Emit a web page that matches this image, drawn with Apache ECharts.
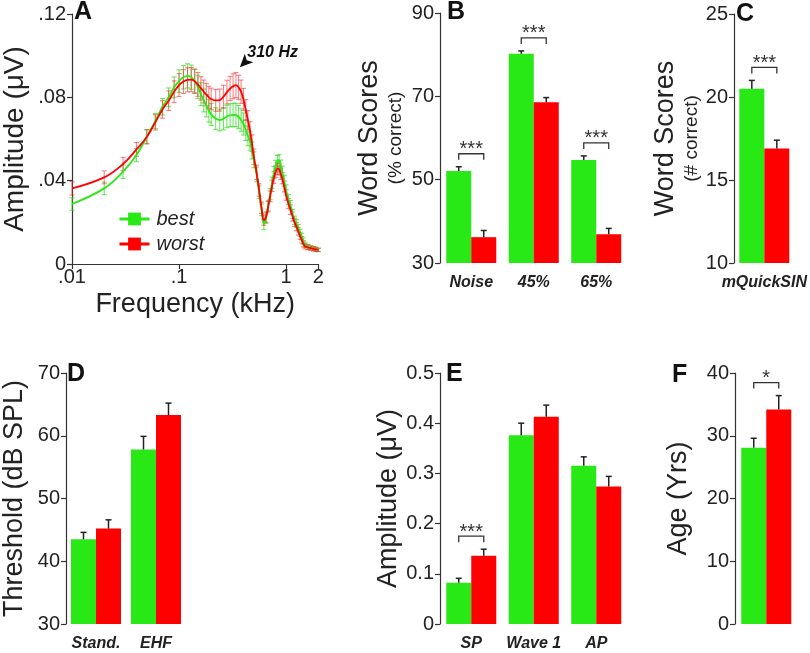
<!DOCTYPE html>
<html>
<head>
<meta charset="utf-8">
<script src="https://cdn.jsdelivr.net/npm/echarts@6.0.0/dist/echarts.min.js"></script>
<style>
  html, body { margin: 0; padding: 0; background: #fff; }
  #chart { width: 810px; height: 653px; }
</style>
</head>
<body>
<div id="chart"></div>
<script>
// A: response amplitude by frequency (kHz)
const freqA = [
  0.01, 0.02, 0.03, 0.04, 0.05, 0.06, 0.07, 0.08, 0.09, 0.10, 0.11, 0.12, 0.13, 0.14, 0.15, 0.16, 0.17, 0.18, 0.19, 0.20,
  0.22, 0.24, 0.26, 0.28, 0.30, 0.32, 0.34, 0.36, 0.38, 0.40, 0.42, 0.44, 0.46, 0.48, 0.50,
  0.53, 0.56, 0.59, 0.62, 0.65, 0.68, 0.71, 0.74, 0.77, 0.80, 0.83, 0.86, 0.89, 0.92,
  0.96, 1.00,
  1.05, 1.10, 1.15, 1.20, 1.25, 1.30, 1.35, 1.40, 1.45, 1.50,
  1.6, 1.7, 1.8, 1.9, 2.0
];
const bestA = [
  .0288, .0363, .0443, .0523, .0612, .0686, .0755, .0800, .0848, .0878, .0896, .0903, .0897, .0878, .0850, .0815, .0785, .0760, .0735, .0718,
  .0698, .0691, .0697, .0708, .0714, .0716, .0715, .0706, .0691, .0672, .0643, .0615, .0590, .0545, .0500,
  .0430, .0345, .0260, .0190, .0220, .0280, .0335, .0390, .0440, .0470, .0493, .0497, .0472, .0443,
  .0400, .0355,
  .0310, .0282, .0240, .0210, .0195, .0172, .0150, .0131, .0110, .0092,
  .0082, .0078, .0074, .0071, .0067
];
const worstA = [
  .0363, .0416, .0480, .0550, .0610, .0680, .0742, .0784, .0827, .0859, .0876, .0884, .0885, .0877, .0862, .0843, .0828, .0813, .0800, .0792,
  .0785, .0787, .0803, .0825, .0842, .0853, .0859, .0848, .0827, .0790, .0739, .0690, .0640, .0580, .0515,
  .0440, .0355, .0270, .0211, .0225, .0275, .0325, .0375, .0415, .0443, .0458, .0455, .0433, .0412,
  .0372, .0331,
  .0290, .0261, .0228, .0200, .0179, .0157, .0135, .0116, .0097, .0085,
  .0080, .0076, .0073, .0070, .0068
];
const bestAErr = [
  .0030, .0030, .0032, .0032, .0033, .0036, .0040, .0045, .0050, .0054, .0056, .0058, .0058, .0057, .0056, .0055, .0055, .0054, .0054, .0053,
  .0052, .0052, .0053, .0054, .0055, .0056, .0056, .0055, .0054, .0053, .0050, .0047, .0044, .0041, .0038,
  .0035, .0030, .0028, .0025, .0025, .0025, .0026, .0027, .0028, .0028, .0028, .0028, .0027, .0027,
  .0026, .0025,
  .0024, .0023, .0022, .0020, .0019, .0018, .0017, .0016, .0015, .0013,
  .0012, .0010, .0010, .0010, .0008
];
const worstAErr = [
  .0032, .0031, .0032, .0033, .0034, .0037, .0042, .0047, .0052, .0055, .0057, .0058, .0058, .0058, .0057, .0056, .0055, .0054, .0053, .0052,
  .0052, .0053, .0055, .0057, .0058, .0060, .0060, .0058, .0056, .0053, .0050, .0046, .0043, .0040, .0037,
  .0034, .0030, .0027, .0025, .0025, .0025, .0026, .0027, .0028, .0028, .0028, .0028, .0027, .0027,
  .0026, .0025,
  .0024, .0023, .0022, .0020, .0019, .0018, .0017, .0016, .0015, .0013,
  .0012, .0010, .0010, .0010, .0008
];

// B: word scores (% correct)
const catsB = ['Noise', '45%', '65%'];
const bestB = [52.1, 80.2, 54.7];
const worstB = [36.2, 68.6, 36.9];
const bestBErr = [1.0, 0.7, 1.0];
const worstBErr = [1.6, 1.1, 1.4];
const sigB = ['***', '***', '***'];

// C: mQuickSIN (# correct)
const catsC = ['mQuickSIN'];
const bestC = [20.5];
const worstC = [16.9];
const bestCErr = [0.5];
const worstCErr = [0.5];
const sigC = ['***'];

// D: thresholds (dB SPL)
const catsD = ['Stand.', 'EHF'];
const bestD = [43.5, 57.8];
const worstD = [45.2, 63.3];
const bestDErr = [1.1, 2.1];
const worstDErr = [1.4, 1.9];
const sigD = ['', ''];

// E: amplitudes (uV)
const catsE = ['SP', 'Wave 1', 'AP'];
const bestE = [0.082, 0.376, 0.315];
const worstE = [0.136, 0.413, 0.274];
const bestEErr = [0.009, 0.024, 0.018];
const worstEErr = [0.013, 0.023, 0.020];
const sigE = ['***', '', ''];

// F: age (yrs)
const catsF = [''];
const bestF = [28.1];
const worstF = [34.2];
const bestFErr = [1.5];
const worstFErr = [2.2];
const sigF = ['*'];

const FONT = '"Liberation Sans", Arial, Helvetica, sans-serif';
const GREEN = '#28e816';
const RED = '#fe0000';
const INK = '#222';
const BAR_W = 25;

const chart = echarts.init(document.getElementById('chart'));

const axisLine = { show: true, lineStyle: { color: '#333', width: 1.2 } };
const axisTick = { show: true, length: 5, lineStyle: { color: '#333', width: 1.2 } };
const richName = {
  a: { fontFamily: FONT, fontSize: 27, color: INK, lineHeight: 30 },
  b: { fontFamily: FONT, fontSize: 19, color: INK, lineHeight: 22 }
};

const dotFmt = (v) => (v === 0 ? '0' : v.toFixed(2).replace(/^0/, ''));

function valAxis(g, min, max, interval, name, nameGap, fmt, nameSize) {
  return {
    type: 'value', gridIndex: g, min, max, interval,
    name, nameLocation: 'middle', nameGap, nameRotate: 90,
    nameTextStyle: { fontFamily: FONT, fontSize: nameSize || 27, color: INK, rich: richName },
    axisLine, axisTick,
    splitLine: { show: false },
    axisLabel: { fontFamily: FONT, fontSize: 20, color: INK, margin: 6, formatter: fmt }
  };
}

function catAxis(g, cats) {
  return {
    type: 'category', gridIndex: g, data: cats,
    axisLine: { show: false }, axisTick: { show: false },
    axisLabel: {
      fontFamily: FONT, fontSize: 16, fontWeight: 'bold', fontStyle: 'italic',
      color: INK, margin: 12, interval: 0
    }
  };
}

function bars(g, best, worst) {
  return [
    { type: 'bar', name: 'bestBars', xAxisIndex: g, yAxisIndex: g, data: best,
      barWidth: BAR_W, barGap: '0%', itemStyle: { color: GREEN } },
    { type: 'bar', name: 'worstBars', xAxisIndex: g, yAxisIndex: g, data: worst,
      barWidth: BAR_W, barGap: '0%', itemStyle: { color: RED } }
  ];
}

// one-sided (upward) error bars on top of the bars
function errBars(g, vals, errs, side) {
  return {
    type: 'custom', xAxisIndex: g, yAxisIndex: g, silent: true, z: 3,
    data: vals.map((v, i) => [i, v, errs[i]]),
    encode: { x: 0, y: 1 },
    renderItem(params, api) {
      const i = api.value(0), v = api.value(1), e = api.value(2);
      const base = api.coord([i, v]);
      const x = base[0] + side * BAR_W / 2;
      const yTop = api.coord([i, v + e])[1];
      const st = { stroke: INK, lineWidth: 1.5 };
      return {
        type: 'group',
        children: [
          { type: 'line', shape: { x1: x, y1: base[1], x2: x, y2: yTop }, style: st },
          { type: 'line', shape: { x1: x - 3, y1: yTop, x2: x + 3, y2: yTop }, style: st }
        ]
      };
    }
  };
}

// significance bracket + stars
function sig(g, best, worst, bestErr, worstErr, marks) {
  return {
    type: 'custom', xAxisIndex: g, yAxisIndex: g, silent: true, z: 4,
    data: best.map((b, i) => [i, Math.max(b + bestErr[i], worst[i] + worstErr[i])]),
    encode: { x: 0, y: 1 },
    renderItem(params, api) {
      const m = marks[params.dataIndex];
      if (!m) return null;
      const p = api.coord([api.value(0), api.value(1)]);
      const yTop = p[1] - 13;
      const xL = p[0] - BAR_W / 2, xR = p[0] + BAR_W / 2;
      return {
        type: 'group',
        children: [
          { type: 'polyline',
            shape: { points: [[xL, yTop + 6], [xL, yTop], [xR, yTop], [xR, yTop + 6]] },
            style: { stroke: '#333', lineWidth: 1.3, fill: null } },
          { type: 'text',
            style: { text: m, x: p[0], y: yTop - 4, align: 'center', verticalAlign: 'middle',
              fontSize: 20, fontFamily: FONT, fill: '#333' } }
        ]
      };
    }
  };
}

// panel A whiskers
function errWhiskers(vals, errs, color) {
  return {
    type: 'custom', xAxisIndex: 0, yAxisIndex: 0, silent: true, z: 1,
    data: freqA.map((f, i) => [f, vals[i] - errs[i], vals[i] + errs[i]]),
    encode: { x: 0, y: [1, 2] },
    renderItem(params, api) {
      const lo = api.coord([api.value(0), api.value(1)]);
      const hi = api.coord([api.value(0), api.value(2)]);
      const st = { stroke: color, lineWidth: 1.1 };
      return {
        type: 'group',
        children: [
          { type: 'line', shape: { x1: lo[0], y1: lo[1], x2: hi[0], y2: hi[1] }, style: st },
          { type: 'line', shape: { x1: lo[0] - 2.5, y1: lo[1], x2: lo[0] + 2.5, y2: lo[1] }, style: st },
          { type: 'line', shape: { x1: hi[0] - 2.5, y1: hi[1], x2: hi[0] + 2.5, y2: hi[1] }, style: st }
        ]
      };
    }
  };
}

const letter = (t, left, top) => ({
  text: t, left, top, padding: 0,
  textStyle: { fontFamily: FONT, fontSize: 25, fontWeight: 'bold', color: '#111' }
});

const option = {
  animation: false,
  backgroundColor: '#fff',
  title: [
    letter('A', 74, 0), letter('B', 447, 0), letter('C', 736, 2),
    letter('D', 67, 362), letter('E', 446, 362), letter('F', 672, 363)
  ],
  legend: {
    data: ['best', 'worst'],
    orient: 'vertical', left: 118, top: 209, padding: 0,
    itemWidth: 30, itemHeight: 16, itemGap: 5,
    lineStyle: { width: 3 },
    textStyle: { fontFamily: FONT, fontSize: 20, fontStyle: 'italic', color: INK, padding: [0, 0, 0, 2] }
  },
  grid: [
    { left: 68, top: 14, width: 250.3, height: 250 },
    { left: 440, top: 13, width: 187.5, height: 250 },
    { left: 734, top: 14, width: 62.5, height: 249 },
    { left: 61, top: 373, width: 125, height: 251 },
    { left: 440, top: 373, width: 187.5, height: 251 },
    { left: 735, top: 373, width: 62.5, height: 251 }
  ],
  xAxis: [
    {
      type: 'log', gridIndex: 0, min: 0.01, max: 2, logBase: 10,
      name: 'Frequency (kHz)', nameLocation: 'middle', nameGap: 27,
      nameTextStyle: { fontFamily: FONT, fontSize: 27, color: INK },
      axisLine, axisTick, splitLine: { show: false }, minorTick: { show: false },
      axisLabel: {
        fontFamily: FONT, fontSize: 20, color: INK, margin: 3,
        formatter: (v) => (v >= 1 ? String(Math.round(v)) : String(v).replace(/^0/, ''))
      }
    },
    catAxis(1, catsB), catAxis(2, catsC), catAxis(3, catsD), catAxis(4, catsE), catAxis(5, catsF)
  ],
  yAxis: [
    valAxis(0, 0, 0.12, 0.04, 'Amplitude (μV)', 43, dotFmt, 28),
    valAxis(1, 30, 90, 20, '{a|Word Scores}\n{b|(% correct)}', 33),
    valAxis(2, 10, 25, 5, '{a|Word Scores}\n{b|(# correct)}', 31),
    valAxis(3, 30, 70, 10, 'Threshold (dB SPL)', 38),
    valAxis(4, 0, 0.5, 0.1, 'Amplitude (μV)', 37, (v) => (v === 0 ? '0' : v.toFixed(1))),
    valAxis(5, 0, 40, 10, 'Age (Yrs)', 43)
  ],
  series: [
    errWhiskers(bestA, bestAErr, 'rgba(50, 220, 30, 0.7)'),
    errWhiskers(worstA, worstAErr, 'rgba(245, 50, 50, 0.6)'),
    {
      type: 'line', name: 'best', xAxisIndex: 0, yAxisIndex: 0, z: 3,
      data: freqA.map((f, i) => [f, bestA[i]]),
      smooth: 0.4, showSymbol: false, symbol: 'rect',
      lineStyle: { color: GREEN, width: 1.8 }, itemStyle: { color: GREEN }
    },
    {
      type: 'line', name: 'worst', xAxisIndex: 0, yAxisIndex: 0, z: 4,
      data: freqA.map((f, i) => [f, worstA[i]]),
      smooth: 0.4, showSymbol: false, symbol: 'rect',
      lineStyle: { color: RED, width: 1.8 }, itemStyle: { color: RED },
      markPoint: {
        silent: true,
        data: [{
          coord: [0.37, 0.0945], symbol: 'arrow', symbolSize: [9, 13], symbolRotate: 135,
          itemStyle: { color: '#111' },
          label: {
            show: true, position: 'right', distance: 0, offset: [-6, -10], formatter: '310 Hz',
            fontFamily: FONT, fontSize: 16, fontWeight: 'bold', fontStyle: 'italic', color: '#111'
          }
        }]
      }
    },

    ...bars(1, bestB, worstB),
    errBars(1, bestB, bestBErr, -1), errBars(1, worstB, worstBErr, 1),
    sig(1, bestB, worstB, bestBErr, worstBErr, sigB),

    ...bars(2, bestC, worstC),
    errBars(2, bestC, bestCErr, -1), errBars(2, worstC, worstCErr, 1),
    sig(2, bestC, worstC, bestCErr, worstCErr, sigC),

    ...bars(3, bestD, worstD),
    errBars(3, bestD, bestDErr, -1), errBars(3, worstD, worstDErr, 1),
    sig(3, bestD, worstD, bestDErr, worstDErr, sigD),

    ...bars(4, bestE, worstE),
    errBars(4, bestE, bestEErr, -1), errBars(4, worstE, worstEErr, 1),
    sig(4, bestE, worstE, bestEErr, worstEErr, sigE),

    ...bars(5, bestF, worstF),
    errBars(5, bestF, bestFErr, -1), errBars(5, worstF, worstFErr, 1),
    sig(5, bestF, worstF, bestFErr, worstFErr, sigF)
  ]
};

chart.setOption(option);
</script>
</body>
</html>
